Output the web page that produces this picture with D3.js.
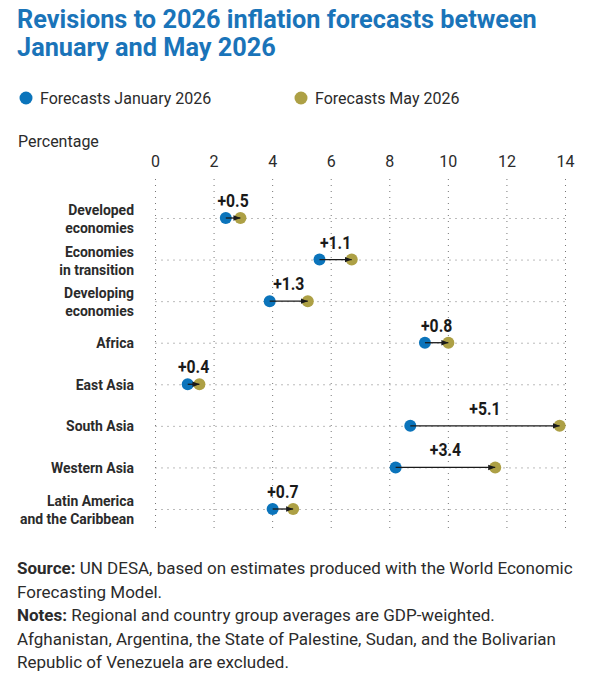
<!DOCTYPE html>
<html>
	<head>
		<script type="text/javascript" src="https://cdn.jsdelivr.net/npm/d3@7"></script>
		<style>
		body { margin: 0; background: white; }
		svg text { font-family: Roboto, "Noto Sans", sans-serif; fill: #2b2b2b; }
		</style>
	</head>
	<body>
		<script type="text/javascript">
			var regions = [["Developed", "economies"], ["Economies", "in transition"], ["Developing", "economies"],
				["Africa"], ["East Asia"], ["South Asia"], ["Western Asia"], ["Latin America", "and the Caribbean"]];
			var january = [2.4, 5.6, 3.9, 9.2, 1.1, 8.7, 8.2, 4.0];
			var may = [2.9, 6.7, 5.2, 10.0, 1.5, 13.8, 11.6, 4.7];
			var revision = ["+0.5", "+1.1", "+1.3", "+0.8", "+0.4", "+5.1", "+3.4", "+0.7"];
			var ticks = [0, 2, 4, 6, 8, 10, 12, 14];

			var blue = "#0b74bb", olive = "#ada045";
			var width = 600, height = 684;

			var svg = d3.select("body").append("svg")
				.attr("width", width)
				.attr("height", height);

			// sx < 1 gives a narrower, condensed-looking label
			function txt(x, y, s, size, weight, anchor, color, sx) {
				return svg.append("text")
					.attr("transform", "translate(" + x + "," + y + ") scale(" + (sx || 1) + ",1)")
					.attr("font-size", size)
					.attr("font-weight", weight || "normal")
					.attr("text-anchor", anchor || "start")
					.style("fill", color || "#2b2b2b")
					.text(s);
			}

			txt(17, 28, "Revisions to 2026 inflation forecasts between", 25.3, "bold", "start", "#1a74b9");
			txt(17, 56, "January and May 2026", 25.3, "bold", "start", "#1a74b9");

			svg.append("circle").attr("cx", 26).attr("cy", 98).attr("r", 6.5).attr("fill", blue);
			txt(40, 104, "Forecasts January 2026", 16);
			svg.append("circle").attr("cx", 301).attr("cy", 98).attr("r", 6.5).attr("fill", olive);
			txt(315, 104, "Forecasts May 2026", 16);

			txt(18, 147, "Percentage", 16);

			var x = d3.scaleLinear().domain([0, 14]).range([155.5, 565.5]);
			var y = d3.scalePoint().domain(d3.range(regions.length)).range([218, 509]);

			// tick labels
			ticks.forEach(function(t) { txt(x(t), 167, t, 16, "normal", "middle"); });

			// dotted grid
			svg.append("g").selectAll("line")
				.data(ticks)
			  .enter().append("line")
				.attr("x1", function(d) { return x(d); })
				.attr("x2", function(d) { return x(d); })
				.attr("y1", 179).attr("y2", 531)
				.attr("stroke", "#777").attr("stroke-width", 1)
				.attr("stroke-dasharray", "1,5");

			svg.append("g").selectAll("line")
				.data(d3.range(regions.length))
			  .enter().append("line")
				.attr("x1", x(0)).attr("x2", x(14))
				.attr("y1", function(d) { return y(d) + 0.5; })
				.attr("y2", function(d) { return y(d) + 0.5; })
				.attr("stroke", "#777").attr("stroke-width", 1)
				.attr("stroke-dasharray", "1,5");

			// category labels
			regions.forEach(function(lines, i) {
				var off = lines.length == 1 ? [5.5] : [-3, 15];
				lines.forEach(function(l, j) { txt(134, y(i) + off[j], l, 15.5, "bold", "end", "#2b2b2b", 0.9); });
			});

			svg.append("defs").append("marker")
				.attr("id", "arrow")
				.attr("viewBox", "0 0 10 10")
				.attr("refX", 10).attr("refY", 5)
				.attr("markerWidth", 7).attr("markerHeight", 7)
				.attr("markerUnits", "userSpaceOnUse")
				.attr("orient", "auto")
			  .append("path")
				.attr("d", "M0,1 L10,5 L0,9 Z")
				.attr("fill", "#1a1a1a");

			var rows = svg.append("g").selectAll("g")
				.data(d3.range(regions.length))
			  .enter().append("g");

			rows.append("circle")
				.attr("cx", function(i) { return x(january[i]); })
				.attr("cy", function(i) { return y(i); })
				.attr("r", 6)
				.attr("fill", blue);

			rows.append("circle")
				.attr("cx", function(i) { return x(may[i]); })
				.attr("cy", function(i) { return y(i); })
				.attr("r", 6)
				.attr("fill", olive);

			rows.append("line")
				.attr("x1", function(i) { return x(january[i]); })
				.attr("x2", function(i) { return x(may[i]); })
				.attr("y1", function(i) { return y(i); })
				.attr("y2", function(i) { return y(i); })
				.attr("stroke", "#1a1a1a").attr("stroke-width", 1.3)
				.attr("marker-end", "url(#arrow)");

			regions.forEach(function(r, i) {
				txt((x(january[i]) + x(may[i])) / 2, y(i) - 11, revision[i], 17.5, "bold", "middle", "#1a1a1a", 0.9);
			});

			// footer
			var foot = [
				[["Source:", "bold"], [" UN DESA, based on estimates produced with the World Economic", "normal"]],
				[["Forecasting Model.", "normal"]],
				[["Notes:", "bold"], [" Regional and country group averages are GDP-weighted.", "normal"]],
				[["Afghanistan, Argentina, the State of Palestine, Sudan, and the Bolivarian", "normal"]],
				[["Republic of Venezuela are excluded.", "normal"]]
			];
			foot.forEach(function(parts, k) {
				var t = txt(17, 574 + k * 23.5, "", 17);
				parts.forEach(function(p) {
					t.append("tspan").attr("font-weight", p[1]).text(p[0]);
				});
			});
		</script>
	</body>
</html>
